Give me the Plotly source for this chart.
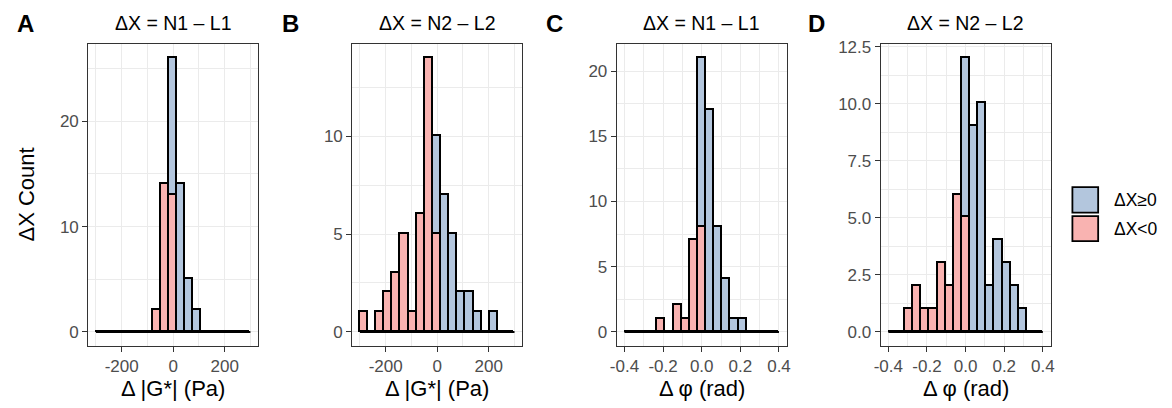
import numpy as np
import plotly.graph_objects as go

# ---------------- data ----------------
N_BINS = 19
G_LIMITS = [-300, 300]
PHI_LIMITS = [-0.4, 0.4]

# counts per bin (19 bins from left limit to right limit)
A_NEG = [0, 0, 0, 0, 0, 0, 0, 2, 14, 13, 0, 0, 0, 0, 0, 0, 0, 0, 0]
A_POS = [0, 0, 0, 0, 0, 0, 0, 0, 0, 13, 14, 5, 2, 0, 0, 0, 0, 0, 0]
B_NEG = [1, 0, 1, 2, 3, 5, 1, 6, 14, 5, 0, 0, 0, 0, 0, 0, 0, 0, 0]
B_POS = [0, 0, 0, 0, 0, 0, 0, 0, 0, 5, 7, 5, 2, 2, 1, 0, 1, 0, 0]
C_NEG = [0, 0, 0, 0, 1, 0, 2, 1, 7, 8, 0, 0, 0, 0, 0, 0, 0, 0, 0]
C_POS = [0, 0, 0, 0, 0, 0, 0, 0, 0, 13, 17, 8, 4, 1, 1, 0, 0, 0, 0]
D_NEG = [0, 0, 1, 2, 1, 1, 3, 2, 6, 5, 0, 0, 0, 0, 0, 0, 0, 0, 0]
D_POS = [0, 0, 0, 0, 0, 0, 0, 0, 0, 7, 9, 10, 2, 4, 3, 2, 1, 0, 0]

PANEL_LETTERS = ["A", "B", "C", "D"]
PANEL_TITLES = ["ΔX = N1 – L1", "ΔX = N2 – L2", "ΔX = N1 – L1", "ΔX = N2 – L2"]
X_TITLES = ["Δ |G*| (Pa)", "Δ |G*| (Pa)", "Δ φ (rad)", "Δ φ (rad)"]
Y_TITLE = "ΔX Count"
LEGEND_LABELS = ["ΔX≥0", "ΔX<0"]

G_TICKS = [-200, 0, 200]
G_TICKLABELS = ["-200", "0", "200"]
PHI_TICKS = [-0.4, -0.2, 0.0, 0.2, 0.4]
PHI_TICKLABELS = ["-0.4", "-0.2", "0.0", "0.2", "0.4"]

Y_TICKS_A = [0, 10, 20]
Y_TICKS_B = [0, 5, 10]
Y_TICKS_C = [0, 5, 10, 15, 20]
Y_TICKS_D = [0, 2.5, 5, 7.5, 10, 12.5]
Y_TICKLABELS_D = ["0.0", "2.5", "5.0", "7.5", "10.0", "12.5"]

# ---------------- style ----------------
W, H = 1172, 408
POS_COLOR = "#B3C6DD"
NEG_COLOR = "#F9B3B1"
FONT = "Liberation Sans, Arial, sans-serif"
GRID = "#EBEBEB"
TICK_COLOR = "#4D4D4D"

PANEL_X = [(82.0, 253.5), (348.5, 520.1), (615.5, 787.1), (881.9, 1053.5)]
PANEL_Y = (38.0, 344.5)


def px_x(p):
    return p / W


def px_y(p):
    return 1 - p / H


def edges_centers(lim):
    e = np.linspace(lim[0], lim[1], N_BINS + 1)
    return e, (e[:-1] + e[1:]) / 2, e[1] - e[0]


panels = [
    (A_NEG, A_POS, G_LIMITS, G_TICKS, G_TICKLABELS, Y_TICKS_A, [str(v) for v in Y_TICKS_A]),
    (B_NEG, B_POS, G_LIMITS, G_TICKS, G_TICKLABELS, Y_TICKS_B, [str(v) for v in Y_TICKS_B]),
    (C_NEG, C_POS, PHI_LIMITS, PHI_TICKS, PHI_TICKLABELS, Y_TICKS_C, [str(v) for v in Y_TICKS_C]),
    (D_NEG, D_POS, PHI_LIMITS, PHI_TICKS, PHI_TICKLABELS, Y_TICKS_D, Y_TICKLABELS_D),
]

fig = go.Figure()
layout = {}
annotations = []
shapes = []

for i, (neg, pos, lim, xt, xtl, yt, ytl) in enumerate(panels):
    k = "" if i == 0 else str(i + 1)
    xa, ya = "x" + k, "y" + k
    edges, centers, width = edges_centers(lim)
    fig.add_trace(go.Bar(x=centers, y=neg, width=width, xaxis=xa, yaxis=ya,
                         marker=dict(color=NEG_COLOR, line=dict(color="black", width=1.9)),
                         showlegend=False, name=LEGEND_LABELS[1]))
    fig.add_trace(go.Bar(x=centers, y=pos, width=width, xaxis=xa, yaxis=ya,
                         marker=dict(color=POS_COLOR, line=dict(color="black", width=1.9)),
                         showlegend=False, name=LEGEND_LABELS[0]))
    fig.add_trace(go.Scatter(x=[edges[0], edges[-1]], y=[0, 0], mode="lines",
                             line=dict(color="black", width=2), xaxis=xa, yaxis=ya,
                             showlegend=False, hoverinfo="skip"))

    span = lim[1] - lim[0]
    xr = [lim[0] - 0.05 * span, lim[1] + 0.05 * span]
    ymax = max(np.array(neg) + np.array(pos))
    yr = [-0.05 * ymax, ymax * 1.05]
    xstep = xt[1] - xt[0]
    ystep = yt[1] - yt[0]

    common = dict(showline=True, mirror=True, linecolor="#333333", linewidth=1,
                  showgrid=True, gridcolor=GRID, gridwidth=1.3, zeroline=False,
                  ticks="outside", ticklen=5, tickwidth=1, tickcolor="#333333",
                  tickfont=dict(family=FONT, size=17, color=TICK_COLOR))
    layout["xaxis" + k] = dict(common, domain=[px_x(PANEL_X[i][0]), px_x(PANEL_X[i][1])],
                               anchor=ya, range=xr, tickmode="array", tickvals=xt, ticktext=xtl,
                               minor=dict(showgrid=True, gridcolor=GRID, gridwidth=0.7,
                                          tickmode="linear", tick0=xt[0] - xstep / 2, dtick=xstep,
                                          ticks=""))
    layout["yaxis" + k] = dict(common, domain=[px_y(PANEL_Y[1]), px_y(PANEL_Y[0])],
                               anchor=xa, range=yr, tickmode="array", tickvals=yt, ticktext=ytl,
                               minor=dict(showgrid=True, gridcolor=GRID, gridwidth=0.7,
                                          tickmode="linear", tick0=yt[0] + ystep / 2, dtick=ystep,
                                          ticks=""))

    cx = (PANEL_X[i][0] + PANEL_X[i][1]) / 2
    annotations.append(dict(text=PANEL_TITLES[i], x=px_x(cx), y=px_y(16.5), xref="paper", yref="paper",
                            xanchor="center", yanchor="middle", showarrow=False,
                            font=dict(family=FONT, size=19.5, color="black")))
    annotations.append(dict(text=X_TITLES[i], x=px_x(cx), y=px_y(388), xref="paper", yref="paper",
                            xanchor="center", yanchor="middle", showarrow=False,
                            font=dict(family=FONT, size=22, color="black")))

letter_x = [19, 286, 552.5, 817.5]
for i, L in enumerate(PANEL_LETTERS):
    annotations.append(dict(text="<b>" + L + "</b>", x=px_x(letter_x[i]), y=px_y(16.5),
                            xref="paper", yref="paper", xanchor="center", yanchor="middle",
                            showarrow=False, font=dict(family=FONT, size=24, color="black")))

annotations.append(dict(text=Y_TITLE, x=px_x(20), y=px_y(191), xref="paper", yref="paper",
                        xanchor="center", yanchor="middle", textangle=-90, showarrow=False,
                        font=dict(family=FONT, size=22, color="black")))

# legend (drawn manually)
legend_keys = [(LEGEND_LABELS[0], POS_COLOR, 183.3, 209.3), (LEGEND_LABELS[1], NEG_COLOR, 212.7, 238.3)]
for label, col, y0, y1 in legend_keys:
    shapes.append(dict(type="rect", xref="paper", yref="paper",
                       x0=px_x(1075.5), x1=px_x(1101.5), y0=px_y(y1), y1=px_y(y0),
                       fillcolor=col, line=dict(color="black", width=1.8)))
    annotations.append(dict(text=label, x=px_x(1115), y=px_y((y0 + y1) / 2), xref="paper", yref="paper",
                            xanchor="left", yanchor="middle", showarrow=False,
                            font=dict(family=FONT, size=17.5, color="black")))

fig.update_layout(**layout)
fig.update_layout(width=W, height=H, margin=dict(l=0, r=0, t=0, b=0),
                  paper_bgcolor="white", plot_bgcolor="white",
                  barmode="stack", bargap=0, annotations=annotations, shapes=shapes,
                  font=dict(family=FONT), showlegend=False)

fig.write_html("out.html")
